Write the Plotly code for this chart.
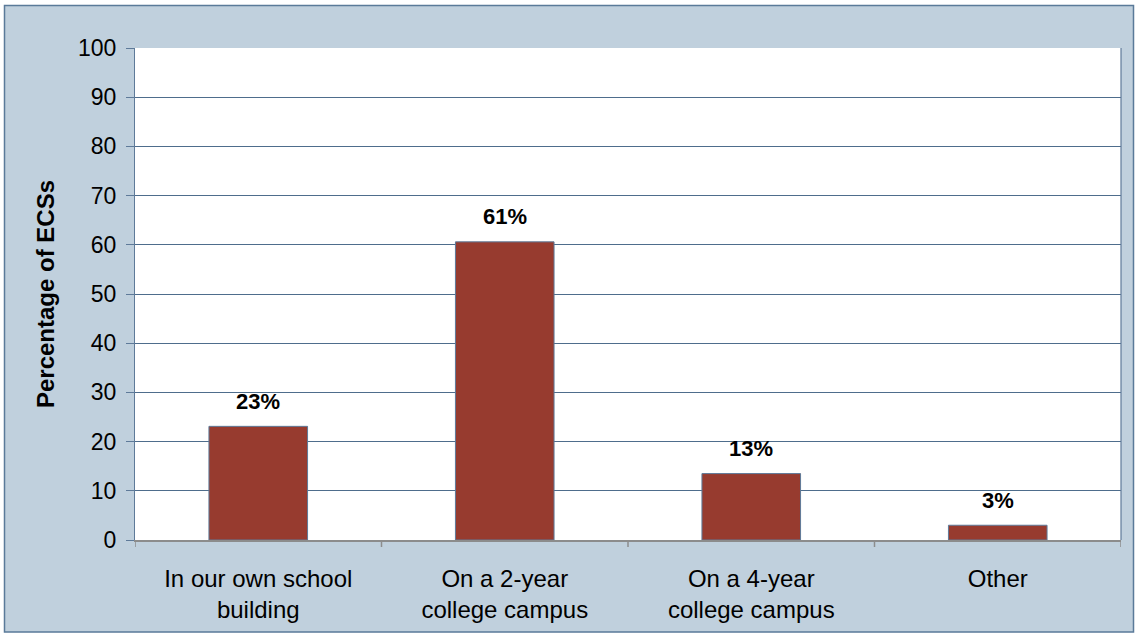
import plotly.graph_objects as go

categories = ["In our own school<br>building", "On a 2-year<br>college campus", "On a 4-year<br>college campus", "Other"]
values = [23.1, 60.6, 13.5, 3.0]
labels = ["23%", "61%", "13%", "3%"]
y_ticks = [0, 10, 20, 30, 40, 50, 60, 70, 80, 90, 100]

W, H = 1138, 636
ml, mr, mt, mb = 135, 17, 48, 96
pw, ph = W - ml - mr, H - mt - mb

def px_x(px):
    return (px - ml) / pw

def px_y(py):
    return (H - mb - py) / ph

FONT = "Arial, Liberation Sans, sans-serif"
BG = "#C0D0DD"
EDGE = "#5A7A99"

fig = go.Figure()
fig.add_trace(go.Bar(
    x=list(range(len(categories))), y=values, width=0.4,
    marker=dict(color="#973B2F", line=dict(color="#5E7A99", width=1)),
    hoverinfo="skip",
))

for i, (v, t) in enumerate(zip(values, labels)):
    fig.add_annotation(x=i, y=v, text="<b>" + t + "</b>", showarrow=False,
                       yshift=25, font=dict(family=FONT, size=22, color="#000"))

# white strips outside the outer border
for (a, b, c, d) in [(0, W, 0, 5), (0, W, 632, H), (0, 4, 0, H), (1134, W, 0, H)]:
    fig.add_shape(type="rect", xref="paper", yref="paper",
                  x0=px_x(a), x1=px_x(b), y0=px_y(d), y1=px_y(c),
                  line=dict(width=0), fillcolor="#FFFFFF", layer="below")
# outer border
fig.add_shape(type="rect", xref="paper", yref="paper",
              x0=px_x(4.5), x1=px_x(1133.5), y0=px_y(632), y1=px_y(5.5),
              line=dict(color=EDGE, width=1.5), fillcolor="rgba(0,0,0,0)", layer="below")
# right border of plot
fig.add_shape(type="line", xref="paper", yref="paper", x0=1, x1=1, y0=0, y1=1,
              line=dict(color="#5E7A99", width=1.2))

# category boundary ticks on x axis
for b in [-0.5, 0.5, 1.5, 2.5, 3.5]:
    fig.add_shape(type="line", xref="x", yref="paper", x0=b, x1=b, y0=0, y1=px_y(H - mb + 7),
                  line=dict(color="#8C8C8C", width=1.5))

fig.update_layout(
    width=W, height=H,
    margin=dict(l=ml, r=mr, t=mt, b=mb),
    paper_bgcolor=BG, plot_bgcolor="#FFFFFF",
    showlegend=False,
    font=dict(family=FONT, size=22, color="#000"),
    xaxis=dict(
        range=[-0.5, 3.5],
        tickmode="array", tickvals=list(range(len(categories))), ticktext=categories,
        showline=True, linecolor="#8C8C8C", linewidth=2,
        ticks="", showgrid=False, tickfont=dict(size=24), ticklabelstandoff=16,
    ),
    yaxis=dict(
        range=[0, 100], tickvals=y_ticks, ticks="outside", ticklen=8, tickcolor="#5E7A99",
        showline=True, linecolor="#5E7A99", linewidth=1.2,
        gridcolor="#4E6D8C", gridwidth=1, zeroline=False,
        tickfont=dict(size=23), ticklabelstandoff=5,
        title=dict(text="<b>Percentage of ECSs</b>", font=dict(size=24), standoff=16),
    ),
)

fig.write_html("out.html", config={"displayModeBar": False},
               post_script="document.body.style.margin='0px';")
